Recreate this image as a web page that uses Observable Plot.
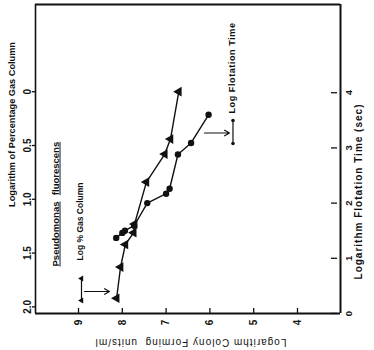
<!DOCTYPE html>
<html><head><meta charset="utf-8">
<script src="https://cdn.jsdelivr.net/npm/d3@7"></script>
<script src="https://cdn.jsdelivr.net/npm/@observablehq/plot@0.6"></script>
<style>
body{margin:0;background:#fff;}
#chart svg{display:block;}
</style></head><body><div id="chart"></div>
<script>
// Log % Gas Column series (triangles): log CFU/ml vs log % gas column
const gasCfu = [8.13, 8.04, 7.93, 7.74, 7.72, 7.45, 7.03, 6.90, 6.71];
const gasLog = [1.92, 1.63, 1.42, 1.31, 1.23, 0.84, 0.58, 0.44, 0.0];
// Log Flotation Time series (circles): log CFU/ml vs log flotation time (sec)
const flotCfu = [8.14, 8.00, 7.94, 7.73, 7.43, 7.00, 6.92, 6.73, 6.43, 6.03];
const flotLog = [1.37, 1.46, 1.50, 1.59, 2.00, 2.17, 2.26, 2.88, 3.09, 3.60];

const cfuTicks = [9, 8, 7, 6, 5, 4];
const gasTicks = [2.0, 1.5, 1.0, 0.5, 0];
const gasTickLabels = ["2.0", "1.5", "1.0", "0.5", "0"];
const flotTicks = [0, 1, 2, 3, 4];

const leftTitle = "Logarithm of Percentage Gas Column";
const rightTitle = "Logarithm Flotation Time (sec)";
const bottomTitle = "Logarithm Colony Forming  units/ml";
const speciesWords = ["Pseudomonas", "fluorescens"];
const gasLegend = "Log % Gas Column";
const flotLegend = "Log Flotation Time";

// gas column axis (top of original figure) expressed in flotation-time units
const gasToT = d3.scaleLinear().domain([0, 2]).range([4.018, 0.12]);
const gasData = gasCfu.map((c, i) => ({cfu: c, y: gasToT(gasLog[i])}));
const flotData = flotCfu.map((c, i) => ({cfu: c, y: flotLog[i]}));

const font = "'Liberation Sans', Arial, Helvetica, sans-serif";
const ink = "#111";
const T = {textAnchor: "middle", lineAnchor: "middle", fill: ink, rotate: -90};

const chart = Plot.plot({
  width: 374, height: 350,
  marginLeft: 35, marginRight: 34, marginTop: 4, marginBottom: 37,
  x: {domain: [9.982, 3.018], axis: null},
  y: {domain: [0, 5.598], axis: null},
  style: {fontFamily: font, background: "#fff", color: ink},
  marks: [
    // frame sides
    Plot.ruleY([5.598], {stroke: ink, strokeWidth: 2.2}),
    Plot.ruleY([0], {stroke: ink, strokeWidth: 2}),
    Plot.ruleX([9.982], {stroke: ink, strokeWidth: 1.6}),
    Plot.ruleX([3.018], {stroke: ink, strokeWidth: 2}),
    // bottom ticks (CFU)
    Plot.ruleX(cfuTicks, {x: d => d, insetTop: 304, stroke: ink, strokeWidth: 1.3}),
    Plot.text(cfuTicks, {...T, x: d => d, frameAnchor: "bottom", dy: 9, text: d => String(d),
      fontSize: 10, fontWeight: "bold"}),
    // left ticks (gas column)
    Plot.ruleY(gasTicks, {y: d => gasToT(d), insetLeft: -3, insetRight: 305, stroke: ink, strokeWidth: 1.3}),
    Plot.text(gasTicks, {...T, y: d => gasToT(d), frameAnchor: "left", dx: -8,
      text: (d, i) => gasTickLabels[i], fontSize: 10, fontWeight: "bold"}),
    // right ticks (flotation time)
    Plot.ruleY(flotTicks, {y: d => d, insetLeft: 296, insetRight: 3, stroke: ink, strokeWidth: 1.3}),
    Plot.text(flotTicks, {...T, y: d => d, frameAnchor: "right", dx: 8,
      text: d => String(d), fontSize: 9.5, fontWeight: "bold"}),
    // axis titles
    Plot.text([leftTitle], {...T, frameAnchor: "top-left", dx: -23, dy: 120, text: d => d,
      fontSize: 9.2, fontWeight: "bold"}),
    Plot.text([rightTitle], {...T, frameAnchor: "top-right", dx: 18, dy: 187, text: d => d,
      fontSize: 10, fontWeight: "bold"}),
    Plot.text([bottomTitle], {...T, rotate: 180, frameAnchor: "bottom-left", dx: 155, dy: 29, text: d => d,
      fontSize: 10}),
    // species label
    Plot.text([speciesWords[0]], {...T, frameAnchor: "top-left", dx: 20, dy: 229.5, text: d => d,
      fontSize: 9.5, fontWeight: "bold"}),
    Plot.text([speciesWords[1]], {...T, frameAnchor: "top-left", dx: 20, dy: 164, text: d => d,
      fontSize: 9.5, fontWeight: "bold"}),
    // series lines + markers
    Plot.line(gasData, {x: "cfu", y: "y", stroke: ink, strokeWidth: 1.4}),
    Plot.line(flotData, {x: "cfu", y: "y", stroke: ink, strokeWidth: 1.4}),
    Plot.dot(gasData, {x: "cfu", y: "y", symbol: "triangle", r: 3.6, rotate: -90, fill: ink, stroke: "none"}),
    Plot.dot(flotData, {x: "cfu", y: "y", symbol: "circle", r: 3.2, fill: ink, stroke: "none"}),
    // legend: gas column
    Plot.ruleX([0], {x: 8.932, y1: 0.236, y2: 0.634, stroke: ink, strokeWidth: 1.2}),
    Plot.dot([0.236, 0.634], {x: 8.932, y: d => d, symbol: "triangle", r: 2.2, rotate: -90, fill: ink}),
    Plot.arrow([0], {x1: 8.863, x2: 8.293, y1: 0.399, y2: 0.399, stroke: ink, strokeWidth: 1.2, headLength: 7}),
    Plot.text([gasLegend], {...T, frameAnchor: "top-left", dx: 45, dy: 217, text: d => d,
      fontSize: 8.5, fontWeight: "bold"}),
    // legend: flotation time
    Plot.ruleX([0], {x: 5.473, y1: 3.08, y2: 3.496, stroke: ink, strokeWidth: 1.2}),
    Plot.dot([3.08, 3.496], {x: 5.473, y: d => d, r: 1.8, fill: ink}),
    Plot.arrow([0], {x1: 6.124, x2: 5.553, y1: 3.27, y2: 3.27, stroke: ink, strokeWidth: 1.2, headLength: 7}),
    Plot.text([flotLegend], {...T, frameAnchor: "top-left", dx: 197, dy: 63.5, text: d => d,
      fontSize: 9, fontWeight: "bold"})
  ]
});

const sel = d3.select(chart);
sel.selectAll("text").each(function() {
  const t = this.textContent;
  const s = d3.select(this);
  if (t === "Pseudomonas" || t === "fluorescens") s.style("text-decoration", "underline");
  if (t === bottomTitle) s.style("letter-spacing", "1px").style("white-space", "pre");
  if (t === rightTitle) s.style("letter-spacing", "1px");
  if (t === flotLegend) s.style("letter-spacing", "0.6px");
});
document.getElementById("chart").appendChild(chart);
</script></body></html>
